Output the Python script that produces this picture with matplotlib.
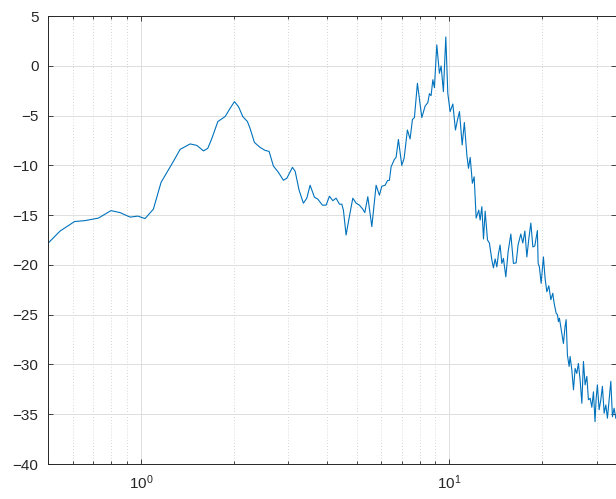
import matplotlib
matplotlib.use('Agg')
import matplotlib.pyplot as plt
from matplotlib.ticker import LogLocator, MultipleLocator, NullLocator

plt.rcParams['font.family'] = ['Liberation Sans', 'DejaVu Sans']

# spectrum (frequency, level in dB)
freq = [0.500, 0.546, 0.608, 0.658, 0.727, 0.798, 0.855, 0.921, 0.976, 1.03,
        1.096, 1.161, 1.273, 1.338, 1.442, 1.516, 1.593, 1.645, 1.696, 1.774,
        1.873, 1.944, 2.008, 2.069, 2.137, 2.212, 2.257, 2.331, 2.432, 2.525,
        2.601, 2.686, 2.788, 2.894, 2.969, 3.096, 3.16, 3.254, 3.36, 3.447,
        3.533, 3.649, 3.742, 3.874, 3.982, 4.081, 4.186, 4.29, 4.398, 4.477,
        4.531, 4.622, 4.737, 4.86, 4.982, 5.106, 5.237, 5.316, 5.436, 5.602,
        5.784, 5.929, 6.035, 6.186, 6.293, 6.388, 6.469, 6.631, 6.715, 6.832,
        7.007, 7.129, 7.307, 7.455, 7.586, 7.70, 7.874, 8.137, 8.341, 8.51,
        8.613, 8.72, 8.836, 8.94, 9.10, 9.28, 9.40, 9.561, 9.734, 9.881,
        10.05, 10.26, 10.46, 10.62, 10.78, 11.0, 11.18, 11.39, 11.53, 11.68,
        11.87, 12.03, 12.21, 12.45, 12.58, 12.74, 12.9, 13.06, 13.29, 13.48,
        13.73, 13.89, 14.07, 14.25, 14.42, 14.6, 14.79, 14.97, 15.24, 15.5,
        15.82, 16.13, 16.46, 16.7, 17.04, 17.3, 17.57, 17.83, 18.1, 18.37,
        18.65, 18.92, 19.29, 19.4, 19.58, 19.84, 20.18, 20.43, 20.7, 21.01,
        21.33, 21.64, 21.86, 22.19, 22.41, 22.57, 22.74, 23.15, 23.43, 23.72,
        23.91, 24.14, 24.45, 24.63, 24.95, 25.26, 25.57, 25.89, 26.2, 26.54,
        26.89, 27.21, 27.55, 27.91, 28.24, 28.61, 28.97, 29.32, 29.67, 29.9,
        30.2, 30.59, 30.98, 31.35, 31.76, 32.16, 32.55, 32.96, 33.38, 33.79,
        34.21, 34.65]
level = [-17.8, -16.6, -15.65, -15.55, -15.3, -14.55, -14.75, -15.2, -15.1, -15.35,
         -14.4, -11.7, -9.6, -8.4, -7.85, -8.0, -8.55, -8.3, -7.3, -5.6,
         -5.1, -4.27, -3.6, -4.1, -5.1, -5.6, -6.3, -7.7, -8.2, -8.5,
         -8.6, -10.07, -10.7, -11.5, -11.3, -10.2, -10.6, -12.5, -13.8, -13.3,
         -12.0, -13.2, -13.4, -14.0, -14.0, -13.1, -13.55, -13.3, -13.9, -13.9,
         -14.5, -17.0, -15.15, -13.3, -13.8, -14.0, -14.4, -14.75, -13.15, -16.15,
         -12.0, -13.0, -12.1, -12.0, -11.55, -11.5, -10.15, -9.4, -9.2, -7.4,
         -10.0, -9.3, -6.45, -7.35, -5.4, -5.2, -1.76, -5.2, -4.05, -3.7,
         -2.8, -3.0, -1.4, -2.2, 2.1, -0.75, -0.02, -2.6, 2.9, -2.77,
         -4.6, -3.84, -6.45, -5.45, -4.6, -7.95, -5.7, -8.96, -10.3, -9.2,
         -11.8, -11.15, -15.3, -14.5, -15.5, -14.15, -17.4, -14.6, -17.5, -17.8,
         -19.5, -20.3, -19.4, -20.2, -18.9, -18.0, -19.85, -19.35, -21.2, -18.7,
         -16.9, -19.85, -19.8, -18.0, -16.9, -17.8, -16.6, -19.2, -17.35, -15.8,
         -18.2, -18.1, -16.55, -19.85, -20.2, -21.85, -19.2, -21.35, -22.7, -22.1,
         -23.5, -22.85, -23.85, -24.85, -25.0, -25.7, -25.35, -26.9, -27.9, -26.2,
         -25.5, -29.05, -30.2, -29.2, -30.55, -32.55, -30.4, -30.9, -29.9, -31.55,
         -33.9, -29.7, -32.05, -31.2, -33.55, -33.4, -34.3, -32.75, -35.75, -33.55,
         -32.05, -34.55, -33.55, -32.2, -34.9, -34.07, -35.4, -33.55, -31.7, -35.25,
         -34.4, -35.4]

x_range = (0.5, 34.7)
y_range = (-40, 5)

fig = plt.figure(figsize=(6.16, 4.99), dpi=100)
ax = fig.add_axes([48.3 / 616, 1 - 464 / 499, 1 - 48.3 / 616, 448 / 499])

ax.plot(freq, level, color='#0072BD', linewidth=0.8)

ax.set_xscale('log')
ax.set_xlim(*x_range)
ax.set_ylim(*y_range)
ax.yaxis.set_major_locator(MultipleLocator(5))
ax.yaxis.set_minor_locator(NullLocator())
ax.xaxis.set_minor_locator(LogLocator(base=10, subs=range(2, 10)))

ax.grid(True, which='major', color='#dedede', linewidth=0.7, linestyle='-')
ax.grid(True, which='minor', axis='x', color='#c8c8c8', linewidth=0.6,
        linestyle=(0, (1, 2.5)))
ax.set_axisbelow(True)

for side in ax.spines.values():
    side.set_color('#262626')
    side.set_linewidth(0.7)
ax.tick_params(which='both', direction='in', top=True, right=True,
               colors='#262626', labelsize=11, width=0.6)
ax.tick_params(which='major', length=3.8, pad=7)
ax.tick_params(which='minor', length=2.2)

fig.savefig('out.png', dpi=100)
